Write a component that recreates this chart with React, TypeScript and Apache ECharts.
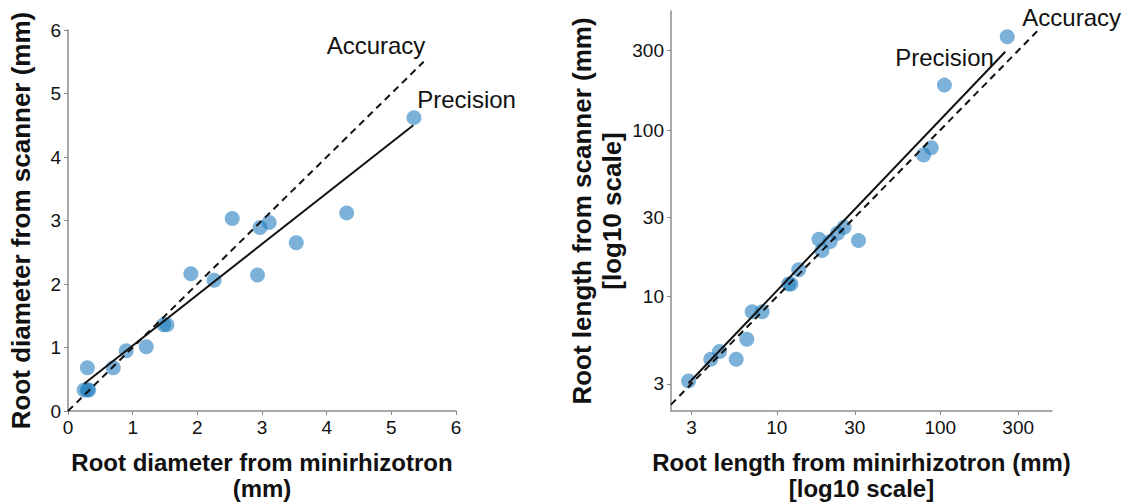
import React, { useEffect, useRef } from "react";
import * as echarts from "echarts";

// Left panel: root diameter (mm)
const diamMinirhizotron = [0.25, 0.30, 0.32, 0.30, 0.70, 0.90, 1.21, 1.48, 1.53, 1.90, 2.26, 2.54, 2.93, 2.97, 3.11, 3.53, 4.31, 5.35];
const diamScanner = [0.33, 0.33, 0.33, 0.68, 0.68, 0.95, 1.01, 1.36, 1.36, 2.16, 2.06, 3.03, 2.14, 2.89, 2.97, 2.65, 3.12, 4.62];
const diamAccuracyLine = [[0, 0], [5.5, 5.5]];
const diamPrecisionLine = [[0.25, 0.43], [5.34, 4.5]];
const diamTicks = [0, 1, 2, 3, 4, 5, 6];

// Right panel: root length (mm), log10 scale
const lenMinirhizotron = [2.88, 3.94, 4.46, 5.64, 6.55, 7.06, 8.13, 11.8, 12.2, 13.6, 18.1, 18.9, 21.2, 23.5, 25.8, 31.6, 79.1, 88.1, 106, 257];
const lenScanner = [3.12, 4.21, 4.68, 4.21, 5.55, 8.13, 8.13, 11.9, 11.9, 14.5, 22.1, 18.9, 21.4, 24.0, 26.1, 21.7, 70.8, 78.3, 186, 363];
const lenAccuracyLine = [[2.25, 2.25], [400, 400]];
const lenPrecisionLine = [[2.88, 3.02], [250, 295]];
const lenTicks = [3, 10, 30, 100, 300];

// Annotation anchors in data coordinates (left edge of text, vertical middle)
const annotLeft = [
  { pos: [4.0, 5.75], text: "Accuracy" },
  { pos: [5.4, 4.91], text: "Precision" },
];
const annotRight = [
  { pos: [318, 476], text: "Accuracy" },
  { pos: [53, 274], text: "Precision" },
];

const FONT = "'Liberation Sans', Arial, sans-serif";
const POINT_COLOR = "rgba(33,125,190,0.74)";
const AXIS_COLOR = "#8c8c8c";
const TEXT_COLOR = "#111111";

export default function App() {
  const ref = useRef<HTMLDivElement>(null);

  useEffect(() => {
    if (!ref.current) return;
    const chart = echarts.init(ref.current, undefined, { renderer: "svg" });

    const axisCommon = {
      axisLine: { show: true, lineStyle: { color: AXIS_COLOR, width: 1.5 } },
      axisTick: { show: true, length: 4, lineStyle: { color: AXIS_COLOR, width: 1 } },
      splitLine: { show: false },
      nameLocation: "middle" as const,
    };
    const xNameStyle = { fontFamily: FONT, fontSize: 24, fontWeight: "bold", color: TEXT_COLOR, lineHeight: 26 };
    const yNameStyle = { fontFamily: FONT, fontSize: 26, fontWeight: "bold", color: TEXT_COLOR, lineHeight: 30 };
    const labelCommon = { fontFamily: FONT, fontSize: 19, color: TEXT_COLOR };

    chart.setOption({
      animation: false,
      grid: [
        { left: 68, top: 30, width: 388, height: 381, containLabel: false, outerBoundsMode: "none" },
        { left: 671, top: 11, width: 381, height: 400, containLabel: false, outerBoundsMode: "none" },
      ],
      xAxis: [
        {
          ...axisCommon,
          gridIndex: 0,
          type: "value",
          min: 0,
          max: 6,
          interval: 1,
          name: "Root diameter from minirhizotron\n(mm)",
          nameGap: 38,
          nameTextStyle: xNameStyle,
          axisLabel: { ...labelCommon, margin: 7, customValues: diamTicks },
          axisTick: { ...axisCommon.axisTick, customValues: diamTicks },
        },
        {
          ...axisCommon,
          gridIndex: 1,
          type: "log",
          logBase: 10,
          min: 2.25,
          max: 483,
          name: "Root length from minirhizotron (mm)\n[log10 scale]",
          nameGap: 38,
          nameTextStyle: xNameStyle,
          axisLabel: { ...labelCommon, margin: 7, customValues: lenTicks, formatter: (v: number) => String(Math.round(v)) },
          axisTick: { ...axisCommon.axisTick, customValues: lenTicks },
        },
      ],
      yAxis: [
        {
          ...axisCommon,
          gridIndex: 0,
          type: "value",
          min: 0,
          max: 6,
          interval: 1,
          name: "Root diameter from scanner (mm)",
          nameGap: 32,
          nameTextStyle: yNameStyle,
          axisLabel: { ...labelCommon, margin: 7, customValues: diamTicks },
          axisTick: { ...axisCommon.axisTick, customValues: diamTicks },
        },
        {
          ...axisCommon,
          gridIndex: 1,
          type: "log",
          logBase: 10,
          min: 2.06,
          max: 518,
          name: "Root length from scanner (mm)\n[log10 scale]",
          nameGap: 44,
          nameTextStyle: yNameStyle,
          axisLabel: { ...labelCommon, margin: 7, customValues: lenTicks, formatter: (v: number) => String(Math.round(v)) },
          axisTick: { ...axisCommon.axisTick, customValues: lenTicks },
        },
      ],
      series: [
        {
          type: "scatter",
          xAxisIndex: 0,
          yAxisIndex: 0,
          symbolSize: 15,
          itemStyle: { color: POINT_COLOR },
          data: diamMinirhizotron.map((x, i) => [x, diamScanner[i]]),
          z: 2,
        },
        {
          type: "line",
          xAxisIndex: 0,
          yAxisIndex: 0,
          data: diamAccuracyLine,
          showSymbol: false,
          symbol: "none",
          lineStyle: { color: "#111", width: 2, type: [7, 5] },
          z: 3,
        },
        {
          type: "line",
          xAxisIndex: 0,
          yAxisIndex: 0,
          data: diamPrecisionLine,
          showSymbol: false,
          symbol: "none",
          lineStyle: { color: "#111", width: 2 },
          z: 3,
        },
        {
          type: "scatter",
          xAxisIndex: 1,
          yAxisIndex: 1,
          symbolSize: 15,
          itemStyle: { color: POINT_COLOR },
          data: lenMinirhizotron.map((x, i) => [x, lenScanner[i]]),
          z: 2,
        },
        {
          type: "line",
          xAxisIndex: 1,
          yAxisIndex: 1,
          data: lenAccuracyLine,
          showSymbol: false,
          symbol: "none",
          lineStyle: { color: "#111", width: 2, type: [7, 5] },
          z: 3,
        },
        {
          type: "line",
          xAxisIndex: 1,
          yAxisIndex: 1,
          data: lenPrecisionLine,
          showSymbol: false,
          symbol: "none",
          lineStyle: { color: "#111", width: 2 },
          z: 3,
        },
      ],
    });

    const toText = (items: { pos: number[]; text: string }[], gridIndex: number) =>
      items.map((a) => {
        const p = chart.convertToPixel({ gridIndex }, a.pos) as number[];
        return {
          type: "text",
          x: p[0],
          y: p[1],
          z: 10,
          silent: true,
          style: {
            text: a.text,
            fill: TEXT_COLOR,
            font: `24px ${FONT}`,
            textAlign: "left",
            textVerticalAlign: "middle",
          },
        };
      });

    chart.setOption({
      graphic: [...toText(annotLeft, 0), ...toText(annotRight, 1)],
    });

    return () => chart.dispose();
  }, []);

  return (
    <div
      ref={ref}
      style={{ position: "fixed", left: 0, top: 0, width: 1132, height: 502, background: "#fff" }}
    />
  );
}
